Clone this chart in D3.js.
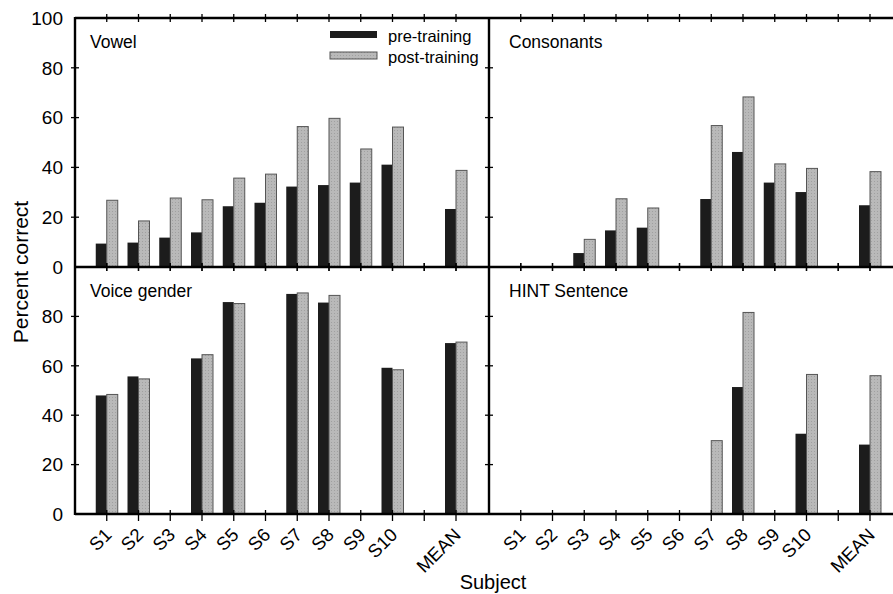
<!DOCTYPE html>
<html>
<head>
<meta charset="utf-8">
<script src="https://cdn.jsdelivr.net/npm/d3@7"></script>
<style>
  body { margin: 0; background: #fff; }
  svg { font-family: "Liberation Sans", Arial, sans-serif; }
</style>
</head>
<body>
<div id="chart"></div>
<script>
// slot 11 is an empty gap before MEAN
const subjects = ["S1", "S2", "S3", "S4", "S5", "S6", "S7", "S8", "S9", "S10", "", "MEAN"];
const yTicks = [0, 20, 40, 60, 80, 100];

const vowelPre  = [9.4, 9.8, 11.8, 13.9, 24.4, 25.8, 32.3, 32.9, 33.9, 41.1, null, 23.3];
const vowelPost = [26.8, 18.5, 27.7, 27.0, 35.7, 37.3, 56.4, 59.7, 47.4, 56.2, null, 38.8];

const consPre  = [null, null, 5.6, 14.7, 15.8, null, 27.3, 46.2, 33.9, 30.1, null, 24.8];
const consPost = [null, null, 11.1, 27.4, 23.7, null, 56.8, 68.3, 41.4, 39.6, null, 38.3];

const voicePre  = [48.0, 55.7, null, 63.0, 85.8, null, 89.1, 85.6, null, 59.2, null, 69.2];
const voicePost = [48.4, 54.7, null, 64.5, 85.2, null, 89.5, 88.5, null, 58.4, null, 69.6];

const hintPre  = [null, null, null, null, null, null, null, 51.4, null, 32.5, null, 28.1];
const hintPost = [null, null, null, null, null, null, 29.7, 81.6, null, 56.5, null, 56.0];

const W = 893, H = 594;
const leftX = 75, midX = 489, slot = 31.75;
const topY = 18, centerY = 267, bottomY = 514;
const barW = 11;
const darkFill = "#1c1c1c", lightFill = "#b9b9b9", lightStroke = "#555";

const svg = d3.select("#chart").append("svg")
    .attr("width", W).attr("height", H);

const defs = svg.append("defs");
const pat = defs.append("pattern")
    .attr("id", "stipple").attr("patternUnits", "userSpaceOnUse")
    .attr("width", 3).attr("height", 3);
pat.append("rect").attr("width", 3).attr("height", 3).attr("fill", lightFill);
pat.append("rect").attr("x", 1).attr("y", 1).attr("width", 1).attr("height", 1).attr("fill", "#a0a0a0");

const panels = [
    { title: "Vowel", pre: vowelPre, post: vowelPost, x0: leftX, y0: centerY, y1: topY, col: 0, row: 0 },
    { title: "Consonants", pre: consPre, post: consPost, x0: midX, y0: centerY, y1: topY, col: 1, row: 0 },
    { title: "Voice gender", pre: voicePre, post: voicePost, x0: leftX, y0: bottomY, y1: centerY, col: 0, row: 1 },
    { title: "HINT Sentence", pre: hintPre, post: hintPost, x0: midX, y0: bottomY, y1: centerY, col: 1, row: 1 }
];

panels.forEach(p => {
    const x = d3.scaleLinear().domain([0, 13]).range([p.x0, p.x0 + 13 * slot]);
    const y = d3.scaleLinear().domain([0, 100]).range([p.y0, p.y1]);
    const g = svg.append("g");

    // bars
    g.selectAll("rect.pre")
        .data(p.pre.map((v, i) => ({ v, i })).filter(d => d.v != null))
        .enter().append("rect")
        .attr("class", "pre")
        .attr("x", d => x(d.i + 1) - barW)
        .attr("y", d => y(d.v))
        .attr("width", barW)
        .attr("height", d => y(0) - y(d.v))
        .attr("fill", darkFill);

    g.selectAll("rect.post")
        .data(p.post.map((v, i) => ({ v, i })).filter(d => d.v != null))
        .enter().append("rect")
        .attr("class", "post")
        .attr("x", d => x(d.i + 1))
        .attr("y", d => y(d.v))
        .attr("width", barW)
        .attr("height", d => y(0) - y(d.v))
        .attr("fill", "url(#stipple)")
        .attr("stroke", lightStroke)
        .attr("stroke-width", 1);

    // x ticks on the baseline (crossing) and the top line
    const tickIdx = d3.range(1, 13);
    [p.y0, p.y1].forEach(yy => {
        const outward = yy === bottomY;
        g.selectAll(null).data(tickIdx).enter().append("line")
            .attr("x1", d => x(d)).attr("x2", d => x(d))
            .attr("y1", yy - 4).attr("y2", yy + (outward ? 7 : 4))
            .attr("stroke", "#000").attr("stroke-width", 1.3);
    });

    // y ticks on the left edge of this panel
    g.selectAll(null).data(yTicks.slice(1, 5)).enter().append("line")
        .attr("x1", p.x0 - 4).attr("x2", p.x0 + 4)
        .attr("y1", d => y(d)).attr("y2", d => y(d))
        .attr("stroke", "#000").attr("stroke-width", 1.3);

    // y tick labels only on the left column
    if (p.col === 0) {
        const labels = p.row === 0 ? yTicks : yTicks.slice(0, 5);
        g.selectAll(null).data(labels).enter().append("text")
            .attr("x", leftX - 12)
            .attr("y", d => y(d))
            .attr("dy", "0.36em")
            .attr("text-anchor", "end")
            .attr("font-size", 19)
            .text(d => d);
    }

    // subject labels under the bottom row
    if (p.row === 1) {
        g.selectAll(null).data(subjects.map((s, i) => ({ s, i })).filter(d => d.s)).enter()
            .append("text")
            .attr("transform", d => `translate(${x(d.i + 1) + 6},${bottomY + 22}) rotate(-45)`)
            .attr("text-anchor", "end")
            .attr("font-size", 18.5)
            .text(d => d.s);
    }

    // panel title
    g.append("text")
        .attr("x", p.x0 + (p.col === 0 ? 15 : 20))
        .attr("y", p.y1 + 30)
        .attr("font-size", 17.5)
        .text(p.title);
});

// frame lines
const frame = svg.append("g").attr("stroke", "#000").attr("stroke-width", 2.4);
[topY, centerY, bottomY].forEach(yy => {
    frame.append("line").attr("x1", leftX).attr("x2", W).attr("y1", yy).attr("y2", yy);
});
[leftX, midX].forEach(xx => {
    frame.append("line").attr("x1", xx).attr("x2", xx).attr("y1", topY - 1).attr("y2", bottomY + 1);
});

// legend
const legendItems = [
    { label: "pre-training", fill: darkFill, stroke: "none" },
    { label: "post-training", fill: "url(#stipple)", stroke: lightStroke }
];
const legend = svg.append("g").attr("transform", "translate(330,30)");
legendItems.forEach((d, i) => {
    legend.append("rect")
        .attr("x", 0).attr("y", i * 21 + 1)
        .attr("width", 47).attr("height", 7)
        .attr("fill", d.fill).attr("stroke", d.stroke);
    legend.append("text")
        .attr("x", 58).attr("y", i * 21 + 12)
        .attr("font-size", 16.5)
        .text(d.label);
});

// axis titles
svg.append("text")
    .attr("transform", "translate(28,272) rotate(-90)")
    .attr("text-anchor", "middle")
    .attr("font-size", 21)
    .text("Percent correct");

svg.append("text")
    .attr("x", 493).attr("y", 589)
    .attr("text-anchor", "middle")
    .attr("font-size", 20)
    .text("Subject");
</script>
</body>
</html>
